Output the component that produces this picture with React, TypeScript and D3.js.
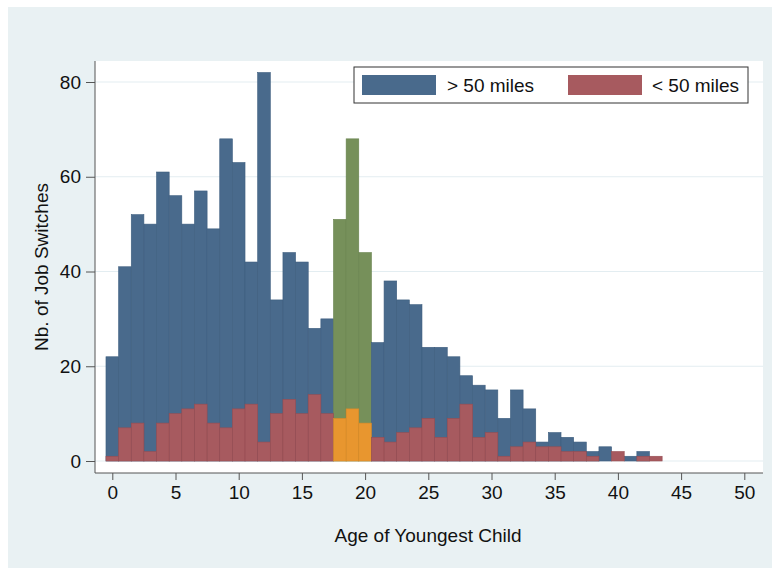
import React, { useEffect, useRef } from 'react';
import * as d3 from 'd3';

// age of youngest child (one bar per year)
const ages = [0, 1, 2, 3, 4, 5, 6, 7, 8, 9, 10, 11, 12, 13, 14, 15, 16, 17, 18, 19, 20, 21,
  22, 23, 24, 25, 26, 27, 28, 29, 30, 31, 32, 33, 34, 35, 36, 37, 38, 39, 40, 41, 42, 43];
const farSwitches = [22, 41, 52, 50, 61, 56, 50, 57, 49, 68, 63, 42, 82, 34, 44, 42, 28, 30, 51, 68, 44, 25,
  38, 34, 33, 24, 24, 22, 18, 16, 15, 9, 15, 11, 4, 6, 5, 4, 2, 3, 0, 1, 2, 0];
const nearSwitches = [1, 7, 8, 2, 8, 10, 11, 12, 8, 7, 11, 12, 4, 10, 13, 10, 14, 10, 9, 11, 8, 5,
  4, 6, 7, 9, 5, 9, 12, 5, 6, 1, 3, 4, 3, 3, 2, 2, 1, 0, 2, 0, 1, 1];
const highlightAges = [18, 19, 20];
const xTicks = [0, 5, 10, 15, 20, 25, 30, 35, 40, 45, 50];
const yTicks = [0, 20, 40, 60, 80];
const seriesLabels = ['> 50 miles', '< 50 miles'];

const W = 772, H = 568;
const plot = { left: 95, right: 763, top: 61, bottom: 473 };
const font = '"Liberation Sans", Arial, sans-serif';
const fs = 19;

const blue = '#496a8c', blueEdge = '#3d5d7e';
const red = '#a75a5f', redEdge = '#974d52';
const green = '#76905a', greenEdge = '#68824d';
const orange = '#e8962f', orangeEdge = '#d88a28';

export default function App() {
  const xAxisRef = useRef<SVGGElement>(null);
  const yAxisRef = useRef<SVGGElement>(null);

  const x = d3.scaleLinear().domain([0, 50]).range([112.3, 744.3]);
  const y = d3.scaleLinear().domain([0, 80]).range([461, 82]);

  useEffect(() => {
    const xa = d3.select(xAxisRef.current!);
    xa.call(d3.axisBottom(x).tickValues(xTicks).tickSize(7).tickPadding(6) as any);
    xa.select('.domain').remove();
    xa.selectAll('line').attr('stroke', '#555');
    xa.selectAll('text').attr('font-size', fs).attr('font-family', font).attr('fill', '#111');

    const ya = d3.select(yAxisRef.current!);
    ya.call(d3.axisLeft(y).tickValues(yTicks).tickSize(9).tickPadding(5) as any);
    ya.select('.domain').remove();
    ya.selectAll('line').attr('stroke', '#555');
    ya.selectAll('text').attr('font-size', fs).attr('font-family', font).attr('fill', '#111');
  }, []);

  const isHi = (a: number) => highlightAges.indexOf(a) >= 0;

  return (
    <svg width={W} height={H} style={{ position: 'absolute', left: 0, top: 0 }}>
      <rect x={0} y={0} width={W} height={H} fill="#fff" />
      <rect x={8} y={7} width={W - 8} height={H - 7} fill="#e9f1f3" />
      <rect x={plot.left} y={plot.top} width={plot.right - plot.left} height={plot.bottom - plot.top} fill="#fff" />

      {yTicks.map(t => (
        <line key={t} x1={plot.left} x2={plot.right} y1={y(t)} y2={y(t)} stroke="#e3edf1" strokeWidth={1} />
      ))}

      {ages.map((a, i) => (
        <rect key={'f' + a} x={x(a - 0.5)} width={x(a + 0.5) - x(a - 0.5)}
          y={y(farSwitches[i])} height={y(0) - y(farSwitches[i])}
          fill={isHi(a) ? green : blue} stroke={isHi(a) ? greenEdge : blueEdge} strokeWidth={0.6} />
      ))}
      {ages.map((a, i) => nearSwitches[i] > 0 && (
        <rect key={'n' + a} x={x(a - 0.5)} width={x(a + 0.5) - x(a - 0.5)}
          y={y(nearSwitches[i])} height={y(0) - y(nearSwitches[i])}
          fill={isHi(a) ? orange : red} stroke={isHi(a) ? orangeEdge : redEdge} strokeWidth={0.6} />
      ))}

      <line x1={plot.left} x2={plot.left} y1={plot.top} y2={plot.bottom} stroke="#555" strokeWidth={1} />
      <line x1={plot.left} x2={plot.right} y1={plot.bottom} y2={plot.bottom} stroke="#555" strokeWidth={1} />
      <g ref={xAxisRef} transform={`translate(0,${plot.bottom})`} />
      <g ref={yAxisRef} transform={`translate(${plot.left},0)`} />

      <text x={428} y={542} textAnchor="middle" fontFamily={font} fontSize={fs} fill="#111">Age of Youngest Child</text>
      <text transform={`translate(48,267) rotate(-90)`} textAnchor="middle" fontFamily={font} fontSize={fs} fill="#111">Nb. of Job Switches</text>

      <g>
        <rect x={354} y={67} width={394} height={36} fill="#fff" stroke="#333" strokeWidth={1} />
        <rect x={362} y={75} width={74} height={20} fill={blue} />
        <text x={447} y={92} fontFamily={font} fontSize={fs} fill="#111">{seriesLabels[0]}</text>
        <rect x={568} y={75} width={74} height={20} fill={red} />
        <text x={652} y={92} fontFamily={font} fontSize={fs} fill="#111">{seriesLabels[1]}</text>
      </g>
    </svg>
  );
}
